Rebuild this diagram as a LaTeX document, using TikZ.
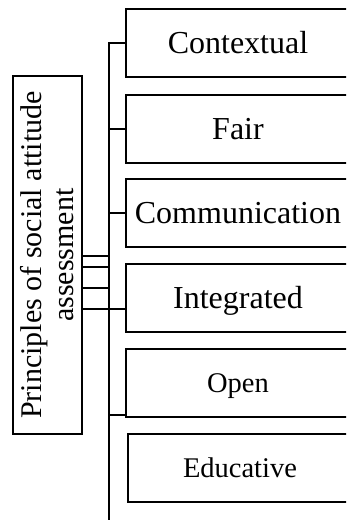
\documentclass[tikz,border=0pt]{standalone}
\usepackage{fontspec}
\setmainfont{Liberation Serif}
\usetikzlibrary{calc}
\begin{document}
\begin{tikzpicture}[x=1pt,y=-1pt,line width=2pt,
  box/.style={draw, minimum width=224pt, minimum height=68pt, inner sep=0pt,
    outer sep=0pt, text depth=0pt, anchor=west},
  big/.style={font=\fontsize{32}{38}\selectfont, text height=21.2pt},
  small/.style={font=\fontsize{28.5}{34}\selectfont, text height=18.9pt},
  mainbox/.style={draw, rotate=90, minimum width=358pt, minimum height=69pt,
    inner sep=0pt, outer sep=0pt, align=center, font=\fontsize{30}{32}\selectfont},
  link/.style={line width=2pt}]
\useasboundingbox (0,0) rectangle (346,520);
\clip (0,0) rectangle (346,520);
\node[mainbox] (main) at (47.5,255) {Principles of social attitude\\assessment};
\node[box,big] (ctx) at (126,43) {Contextual};
\node[box,big] (fair) at (126,128.5) {Fair};
\node[box,big] (comm) at (126,213) {Communication};
\node[box,big] (integ) at (126,298) {Integrated};
\node[box,small] (open) at (126,383) {Open};
\node[box,small] (educ) at (128,468) {Educative};
\coordinate (tb) at (109,524);
\draw[link] (ctx.west) -| (tb);
\draw[link] (fair.west) -- (fair.west -| tb);
\draw[link] (comm.west) -- (comm.west -| tb);
\draw[link] ($(open.south west)+(0,-2)$) -- (tb |- 0,415);
\draw[link] (main.south |- 0,256) -- (tb |- 0,256);
\draw[link] (main.south |- 0,267) -- (tb |- 0,267);
\draw[link] (main.south |- 0,288) -- (tb |- 0,288);
\draw[link] (main.south |- 0,309) -- ($(integ.west)+(0,11)$);
\end{tikzpicture}
\end{document}
